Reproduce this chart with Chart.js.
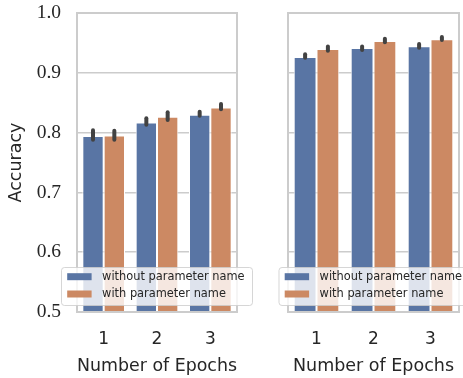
<!DOCTYPE html>
<html><head><meta charset="utf-8">
<script src="https://cdn.jsdelivr.net/npm/chart.js@4.4.0/dist/chart.umd.min.js"></script>
<style>
html,body{margin:0;padding:0;background:#fff;}
#wrap{position:relative;width:463px;height:378px;overflow:hidden;background:#fff;}
canvas{position:absolute;top:0;}
</style></head><body>
<div id="wrap">
<canvas id="c1" width="262" height="378" style="left:0"></canvas>
<canvas id="c2" width="201" height="378" style="left:262px"></canvas>
</div>
<script>
const categories = ['1', '2', '3'];
const seriesNames = ['without parameter name', 'with parameter name'];
const yTicks = [0.5, 0.6, 0.7, 0.8, 0.9, 1.0];

// left panel
const leftWithout = [0.7945, 0.817, 0.830];
const leftWith = [0.795, 0.8265, 0.842];
const leftWithoutLow = [0.788, 0.813, 0.828];
const leftWithoutHigh = [0.804, 0.824, 0.835];
const leftWithLow = [0.788, 0.821, 0.839];
const leftWithHigh = [0.803, 0.834, 0.848];

// right panel
const rightWithout = [0.9265, 0.9415, 0.9445];
const rightWith = [0.940, 0.953, 0.956];
const rightWithoutLow = [0.925, 0.938, 0.942];
const rightWithoutHigh = [0.931, 0.944, 0.948];
const rightWithLow = [0.937, 0.951, 0.955];
const rightWithHigh = [0.944, 0.957, 0.960];

const BLUE = '#5975a4', ORANGE = '#cc8963';
const GRID = '#cccccc', TEXT = '#262626';

const decor = {
  id: 'decor',
  afterDraw(chart, args, o) {
    const ctx = chart.ctx, ys = chart.scales.y, ca = chart.chartArea;
    ctx.save();
    // error bars
    ctx.strokeStyle = '#424242';
    ctx.lineWidth = 4;
    ctx.lineCap = 'round';
    chart.data.datasets.forEach((ds, di) => {
      const meta = chart.getDatasetMeta(di);
      ds.errLow.forEach((lo, i) => {
        const x = meta.data[i].x;
        ctx.beginPath();
        ctx.moveTo(x, ys.getPixelForValue(lo));
        ctx.lineTo(x, ys.getPixelForValue(ds.errHigh[i]));
        ctx.stroke();
      });
    });
    // spines
    ctx.lineCap = 'butt';
    ctx.strokeStyle = GRID;
    ctx.lineWidth = 2;
    ctx.strokeRect(ca.left, ca.top, ca.right - ca.left, ca.bottom - ca.top);
    // legend
    const lx = o.x, ly = 267.5, lw = 191, lh = 38;
    ctx.beginPath();
    ctx.roundRect(lx, ly, lw, lh, 3);
    ctx.fillStyle = 'rgba(255,255,255,0.8)';
    ctx.fill();
    ctx.lineWidth = 1;
    ctx.strokeStyle = 'rgba(204,204,204,0.8)';
    ctx.stroke();
    ctx.font = '11.4px "DejaVu Sans"';
    ctx.textBaseline = 'middle';
    ctx.textAlign = 'left';
    chart.data.datasets.forEach((ds, di) => {
      const cy = 276.7 + di * 17.3;
      ctx.fillStyle = ds.backgroundColor;
      ctx.fillRect(lx + 5.7, cy - 3.5, 24.4, 7);
      ctx.fillStyle = TEXT;
      ctx.fillText(ds.label, lx + 40.6, cy + 0.5);
    });
    ctx.restore();
  }
};

function makeChart(id, without, withP, wLo, wHi, pLo, pHi, cfg) {
  return new Chart(document.getElementById(id), {
    type: 'bar',
    data: {
      labels: categories,
      datasets: [
        { label: seriesNames[0], data: without, errLow: wLo, errHigh: wHi,
          backgroundColor: BLUE, borderColor: '#ffffff', borderWidth: 1,
          categoryPercentage: 0.8, barPercentage: 1.0 },
        { label: seriesNames[1], data: withP, errLow: pLo, errHigh: pHi,
          backgroundColor: ORANGE, borderColor: '#ffffff', borderWidth: 1,
          categoryPercentage: 0.8, barPercentage: 1.0 }
      ]
    },
    options: {
      responsive: false,
      animation: false,
      devicePixelRatio: 1,
      layout: { padding: { top: 13, right: cfg.padRight, bottom: 0, left: 0 } },
      plugins: { legend: { display: false }, tooltip: { enabled: false },
                 decor: { x: cfg.legendX } },
      scales: {
        x: {
          grid: { display: false },
          border: { display: false },
          ticks: { color: TEXT, font: { family: 'DejaVu Sans', size: 17 }, padding: 9 },
          title: { display: true, text: 'Number of Epochs', color: TEXT,
                   font: { family: 'DejaVu Sans', size: 17.5 }, padding: { top: 0, bottom: 1.5 } },
          afterFit(s) { s.height = 66; s.paddingLeft = 0; s.paddingRight = 0; }
        },
        y: {
          min: 0.5, max: 1.0,
          afterBuildTicks(s) { s.ticks = yTicks.map(v => ({ value: v })); },
          grid: { color: GRID, lineWidth: 1.5, drawTicks: false },
          border: { display: false },
          ticks: { display: cfg.showY, color: TEXT, padding: 16,
                   font: { family: 'Liberation Serif', size: 19.5 },
                   callback: v => Number(v).toFixed(1) },
          title: { display: cfg.showY, text: 'Accuracy', color: TEXT,
                   font: { family: 'DejaVu Sans', size: 17.5 }, padding: { top: 6, bottom: 0 } },
          afterFit(s) { s.width = cfg.yWidth; s.paddingTop = 0; s.paddingBottom = 0; }
        }
      }
    },
    plugins: [decor]
  });
}

makeChart('c1', leftWithout, leftWith, leftWithoutLow, leftWithoutHigh, leftWithLow, leftWithHigh,
  { padRight: 25, yWidth: 77, showY: true, legendX: 61.5 });
makeChart('c2', rightWithout, rightWith, rightWithoutLow, rightWithoutHigh, rightWithLow, rightWithHigh,
  { padRight: 4, yWidth: 26, showY: false, legendX: 17 });
</script>
</body></html>
